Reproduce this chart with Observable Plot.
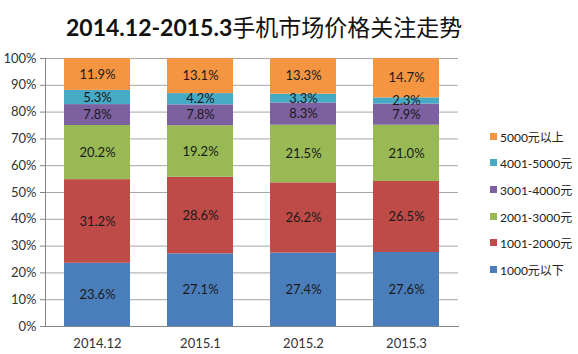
<!DOCTYPE html>
<html>
<head>
<meta charset="utf-8">
<script src="https://cdn.jsdelivr.net/npm/d3@7"></script>
<script src="https://cdn.jsdelivr.net/npm/@observablehq/plot@0.6"></script>
<style>
  body { margin: 0; background: #fff; font-family: Lato, "Noto Sans CJK SC", sans-serif; }
  #wrap { position: relative; width: 578px; height: 354px; overflow: hidden; }
  #title { height: 50px; line-height: 52px; text-align: left; padding-left: 66px; font-size: 23px; color: #111; white-space: nowrap; box-sizing: border-box; }
  #title .n { font-weight: 700; font-family: Lato, sans-serif; }
  #title .c { font-weight: 400; font-family: "Noto Sans CJK SC", sans-serif; }
  #legend { position: absolute; left: 490px; top: 123px; font-size: 12px; color: #222; }
  #legend div { height: 26.6px; display: flex; align-items: center; white-space: nowrap; }
  #legend span.sw { display: inline-block; width: 7px; height: 7px; margin-right: 3px; }
</style>
</head>
<body>
<div id="wrap">
  <div id="title"><span class="n">2014.12-2015.3</span><span class="c">手机市场价格关注走势</span></div>
  <div id="chart"></div>
  <div id="legend"></div>
</div>
<script>
const categories = ["2014.12", "2015.1", "2015.2", "2015.3"];
const seriesNames = ["1000元以下", "1001-2000元", "2001-3000元", "3001-4000元", "4001-5000元", "5000元以上"];
const seriesColors = ["#4A7EBB", "#BE4B48", "#98B954", "#7D60A0", "#46AAC5", "#F59542"];
const v1000below = [23.6, 27.1, 27.4, 27.6];
const v1001_2000 = [31.2, 28.6, 26.2, 26.5];
const v2001_3000 = [20.2, 19.2, 21.5, 21.0];
const v3001_4000 = [7.8, 7.8, 8.3, 7.9];
const v4001_5000 = [5.3, 4.2, 3.3, 2.3];
const v5000above = [11.9, 13.1, 13.3, 14.7];
const yTicks = [0, 10, 20, 30, 40, 50, 60, 70, 80, 90, 100];

const seriesValues = [v1000below, v1001_2000, v2001_3000, v3001_4000, v4001_5000, v5000above];
const data = [];
seriesNames.forEach((s, si) => {
  categories.forEach((c, ci) => {
    data.push({cat: c, series: s, value: seriesValues[si][ci]});
  });
});

const chart = Plot.plot({
  width: 578,
  height: 304,
  marginTop: 8,
  marginBottom: 28,
  marginLeft: 45,
  marginRight: 120,
  style: {fontFamily: "Lato, 'Noto Sans CJK SC', sans-serif", fontSize: "13px", color: "#333"},
  x: {domain: categories, paddingInner: 0.36, paddingOuter: 0.18, label: null},
  y: {domain: [0, 100], label: null},
  color: {domain: seriesNames, range: seriesColors},
  marks: [
    Plot.gridY({ticks: yTicks, stroke: "#a6a6a6", strokeOpacity: 1}),
    Plot.barY(data, {x: "cat", y: "value", z: "series", fill: "series"}),
    Plot.text(data, Plot.stackY({x: "cat", y: "value", z: "series", text: d => d.value.toFixed(1) + "%", fill: "#1a1a1a", fontSize: 13})),
    Plot.frame({anchor: "left", stroke: "#868686"}),
    Plot.frame({anchor: "bottom", stroke: "#868686"}),
    Plot.axisY({ticks: yTicks, tickFormat: d => d + "%", tickSize: 5, tickPadding: 4, stroke: "#868686", fill: "#333", label: null}),
    Plot.axisX({tickSize: 0, tickPadding: 12, fill: "#333", label: null})
  ]
});
document.getElementById("chart").appendChild(chart);

const legend = document.getElementById("legend");
for (let i = seriesNames.length - 1; i >= 0; i--) {
  const row = document.createElement("div");
  row.innerHTML = `<span class="sw" style="background:${seriesColors[i]}"></span>${seriesNames[i]}`;
  legend.appendChild(row);
}
</script>
</body>
</html>
